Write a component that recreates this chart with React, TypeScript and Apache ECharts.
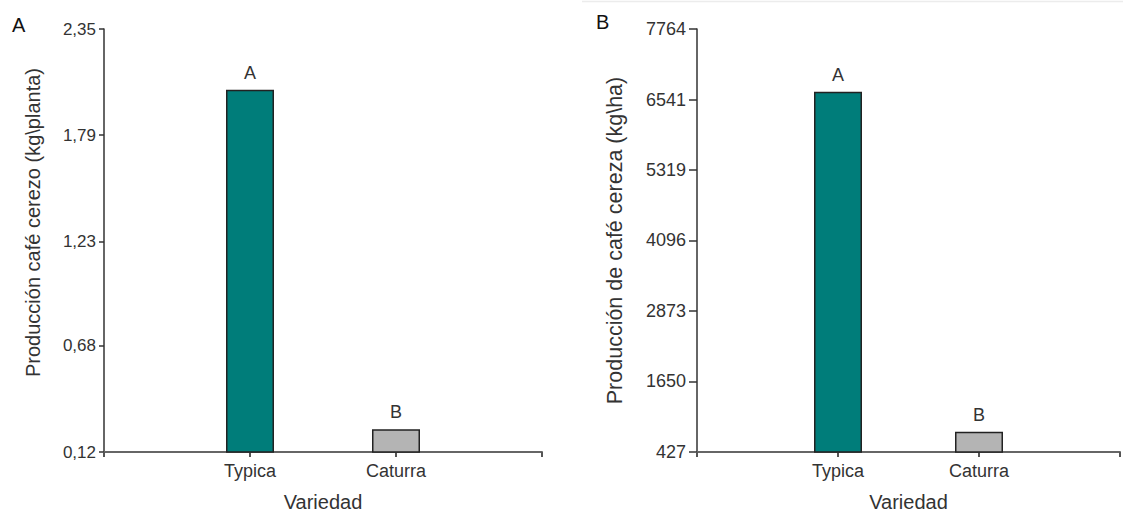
import React, { useEffect, useRef } from "react";
import * as echarts from "echarts";

// ---- data ----
const CATEGORIES = ["Typica", "Caturra"];
const PLANT_YIELD = [2.03, 0.24]; // kg\planta
const HA_YIELD = [6675, 780]; // kg\ha
const GROUP_LETTERS = ["A", "B"];
const BAR_COLORS = ["#007d7a", "#b4b4b4"];
const LEFT_TICKS = ["0,12", "0,68", "1,23", "1,79", "2,35"];
const RIGHT_TICKS = ["427", "1650", "2873", "4096", "5319", "6541", "7764"];
const LEFT_NAME = "Producción café cerezo (kg\\planta)";
const RIGHT_NAME = "Producción de café cereza (kg\\ha)";
const X_NAME = "Variedad";
const PANELS = ["A", "B"];

const FONT = "Liberation Sans, Arial, sans-serif";
const parseTick = (s: string) => parseFloat(s.replace(",", "."));

function yAxisFor(ticks: string[], gridIndex: number, name: string, nameGap: number, nameSize: number, labelSize: number, tickLen: number, margin: number, namePad: number[]) {
  const vals = ticks.map(parseTick);
  return {
    type: "value",
    gridIndex,
    min: vals[0],
    max: vals[vals.length - 1],
    name,
    nameLocation: "middle",
    nameGap,
    nameTextStyle: { fontFamily: FONT, fontSize: nameSize, color: "#333", padding: namePad },
    axisLine: { show: true, lineStyle: { color: "#333", width: 1.5 } },
    axisTick: { show: true, length: tickLen, customValues: vals, lineStyle: { color: "#333", width: 1.5 } },
    axisLabel: {
      customValues: vals,
      margin,
      fontFamily: FONT,
      fontSize: labelSize,
      color: "#333",
      formatter: (v: number) => {
        const i = vals.findIndex((x) => Math.abs(x - v) < 1e-6);
        return i >= 0 ? ticks[i] : "";
      },
    },
    splitLine: { show: false },
  };
}

function xAxisFor(gridIndex: number) {
  return {
    type: "category",
    gridIndex,
    data: ["", ...CATEGORIES, ""],
    boundaryGap: false,
    name: X_NAME,
    nameLocation: "middle",
    nameGap: 40,
    nameTextStyle: { fontFamily: FONT, fontSize: 20, color: "#333" },
    axisLine: { show: true, onZero: false, lineStyle: { color: "#666", width: 2 } },
    axisTick: { show: true, length: 5, lineStyle: { color: "#555", width: 2 } },
    axisLabel: { margin: 10, fontFamily: FONT, fontSize: 18, color: "#333", interval: 0 },
    splitLine: { show: false },
  };
}

function barSeries(values: number[], idx: number) {
  return {
    type: "bar",
    xAxisIndex: idx,
    yAxisIndex: idx,
    barWidth: 48,
    data: ["-", ...values.map((v, i) => ({
      value: v,
      itemStyle: { color: BAR_COLORS[i], borderColor: "#222", borderWidth: 1.5 },
    })), "-"],
    label: {
      show: true,
      position: "top",
      distance: 8,
      fontFamily: FONT,
      fontSize: 18,
      color: "#333",
      formatter: (p: any) => GROUP_LETTERS[p.dataIndex - 1] ?? "",
    },
  };
}

export default function App() {
  const ref = useRef<HTMLDivElement>(null);
  useEffect(() => {
    if (!ref.current) return;
    const chart = echarts.init(ref.current, undefined, { renderer: "svg" });
    chart.setOption({
      animation: false,
      backgroundColor: "#ffffff",
      grid: [
        { left: 104, top: 29, width: 438, height: 423 },
        { left: 697, top: 29, width: 429, height: 423 },
      ],
      xAxis: [xAxisFor(0), xAxisFor(1)],
      yAxis: [
        yAxisFor(LEFT_TICKS, 0, LEFT_NAME, 61, 20, 17, 5, 8, [0, 0, 0, 36]),
        yAxisFor(RIGHT_TICKS, 1, RIGHT_NAME, 71, 21.5, 18, 8, 11, [0, 0, 0, 0]),
      ],
      series: [barSeries(PLANT_YIELD, 0), barSeries(HA_YIELD, 1)],
      graphic: [
        { type: "text", left: 12, top: 15, style: { text: PANELS[0], fontFamily: FONT, fontSize: 20, fill: "#111" } },
        { type: "text", left: 596, top: 12, style: { text: PANELS[1], fontFamily: FONT, fontSize: 20, fill: "#111" } },
        { type: "line", shape: { x1: 582, y1: 1.5, x2: 1123, y2: 1.5 }, style: { stroke: "#ececec", lineWidth: 1.5 } },
      ],
    });
    return () => chart.dispose();
  }, []);
  return <div ref={ref} style={{ position: "absolute", left: 0, top: 0, width: 1123, height: 519 }} />;
}
